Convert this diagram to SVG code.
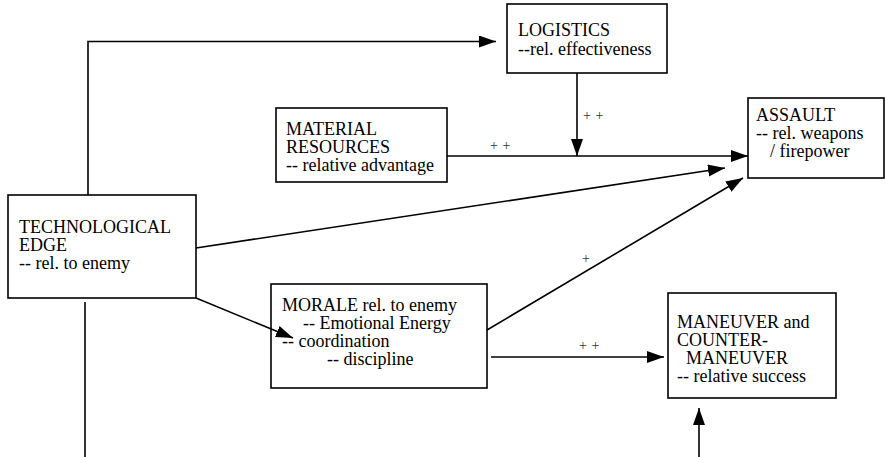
<svg xmlns="http://www.w3.org/2000/svg" width="885" height="457" viewBox="0 0 885 457">
<style>
.box{fill:#fff;stroke:#000;stroke-width:1.6}
.t{font-size:18px;fill:#000}
.lbl{font-size:14px;fill:#333;letter-spacing:4.5px}
.ln{fill:none;stroke:#000;stroke-width:1.6}
.ar{marker-end:url(#ah)}
</style>
<defs>
<marker id="ah" markerUnits="userSpaceOnUse" markerWidth="18" markerHeight="13" refX="17" refY="6" orient="auto">
<path d="M0,0 L17,6 L0,12 z" fill="#000"/>
</marker>
</defs>
<rect width="885" height="457" fill="#fff"/>
<g font-family="'Liberation Serif', 'Times New Roman', serif">
<g id="logistics">
<rect class="box" x="507" y="4" width="160" height="69"/>
<text class="t" x="518" y="36">LOGISTICS</text>
<text class="t" x="518" y="54.5">--rel. effectiveness</text>
</g>
<g id="material">
<rect class="box" x="276" y="108" width="171" height="74"/>
<text class="t" x="286" y="135">MATERIAL</text>
<text class="t" x="286" y="153">RESOURCES</text>
<text class="t" x="286" y="171">-- relative advantage</text>
</g>
<g id="assault">
<rect class="box" x="748" y="98" width="136" height="80"/>
<text class="t" x="756" y="121">ASSAULT</text>
<text class="t" x="756" y="139">-- rel. weapons</text>
<text class="t" x="770" y="157">/ firepower</text>
</g>
<g id="tech">
<rect class="box" x="8" y="195" width="188" height="103"/>
<text class="t" x="19" y="232.5">TECHNOLOGICAL</text>
<text class="t" x="19" y="250.5">EDGE</text>
<text class="t" x="19" y="268.5">-- rel. to enemy</text>
</g>
<g id="morale">
<rect class="box" x="271" y="284" width="216" height="104"/>
<text class="t" x="282" y="311">MORALE rel. to enemy</text>
<text class="t" x="303" y="329">-- Emotional Energy</text>
<text class="t" x="282" y="347">-- coordination</text>
<text class="t" x="327" y="365">-- discipline</text>
</g>
<g id="maneuver">
<rect class="box" x="668" y="293" width="168" height="105"/>
<text class="t" x="677" y="328">MANEUVER and</text>
<text class="t" x="677" y="346">COUNTER-</text>
<text class="t" x="686" y="364">MANEUVER</text>
<text class="t" x="677" y="382">-- relative success</text>
</g>
<g id="connectors">
<polyline class="ln ar" points="88,195 88,41.5 496,41.5"/>
<line class="ln" x1="85" y1="302" x2="85" y2="457"/>
<line class="ln ar" x1="577" y1="73" x2="577" y2="156"/>
<line class="ln ar" x1="447" y1="156" x2="748" y2="156"/>
<line class="ln ar" x1="196" y1="248" x2="725" y2="168"/>
<line class="ln ar" x1="196" y1="298" x2="293" y2="338"/>
<line class="ln ar" x1="487" y1="330" x2="743" y2="178"/>
<line class="ln ar" x1="491" y1="357" x2="664" y2="357"/>
<line class="ln ar" x1="699" y1="457" x2="699" y2="408"/>
<text class="lbl" x="490" y="150">++</text>
<text class="lbl" x="583" y="120">++</text>
<text class="lbl" x="582" y="263">+</text>
<text class="lbl" x="579" y="349.5">++</text>
</g>
</g>
</svg>
